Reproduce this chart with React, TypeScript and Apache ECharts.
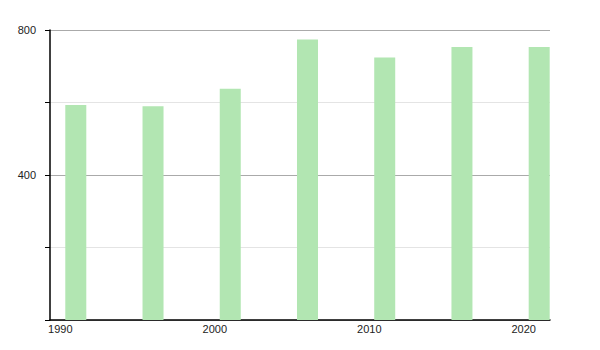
import React, { useEffect, useRef } from "react";
import * as echarts from "echarts";

const years = [1991, 1996, 2001, 2006, 2011, 2016, 2021];
const values = [593, 590, 638, 774, 724, 753, 753];
const yLabels = [400, 800];

export default function App() {
  const ref = useRef<HTMLDivElement>(null);
  useEffect(() => {
    const chart = echarts.init(ref.current!, null, { renderer: "svg" });
    chart.setOption({
      animation: false,
      grid: { left: 50, right: 50, top: 30, bottom: 30 },
      xAxis: {
        type: "value",
        min: 1989.33,
        max: 2021.7,
        splitNumber: 3,
        axisLine: { show: true, onZero: false, lineStyle: { color: "#000", width: 1.5 } },
        axisTick: { show: false },
        splitLine: { show: false },
        axisLabel: {
          margin: 3,
          color: "#222",
          fontSize: 11,
          fontFamily: "Liberation Sans, Arial, sans-serif",
          formatter: (v: number) => (Math.abs(v % 10) < 1e-6 ? String(v) : ""),
        },
      },
      yAxis: {
        type: "value",
        min: 0,
        max: 800,
        interval: 200,
        axisLine: { show: true, lineStyle: { color: "#000", width: 1.5 } },
        axisTick: { show: true, length: 5, lineStyle: { color: "#000" } },
        splitLine: {
          show: true,
          lineStyle: { color: ["#aaaaaa", "#e4e4e4", "#aaaaaa", "#e4e4e4", "#aaaaaa"] },
        },
        axisLabel: {
          margin: 14,
          color: "#222",
          fontSize: 11,
          fontFamily: "Liberation Sans, Arial, sans-serif",
          formatter: (v: number) => (yLabels.includes(v) ? String(v) : ""),
        },
      },
      series: [
        {
          type: "bar",
          data: years.map((y, i) => [y, values[i]]),
          barWidth: 21,
          itemStyle: { color: "#b2e6b2" },
          clip: true,
        },
      ],
    });
    return () => chart.dispose();
  }, []);
  return <div ref={ref} style={{ width: 600, height: 350, position: "absolute", left: 0, top: 0 }} />;
}
